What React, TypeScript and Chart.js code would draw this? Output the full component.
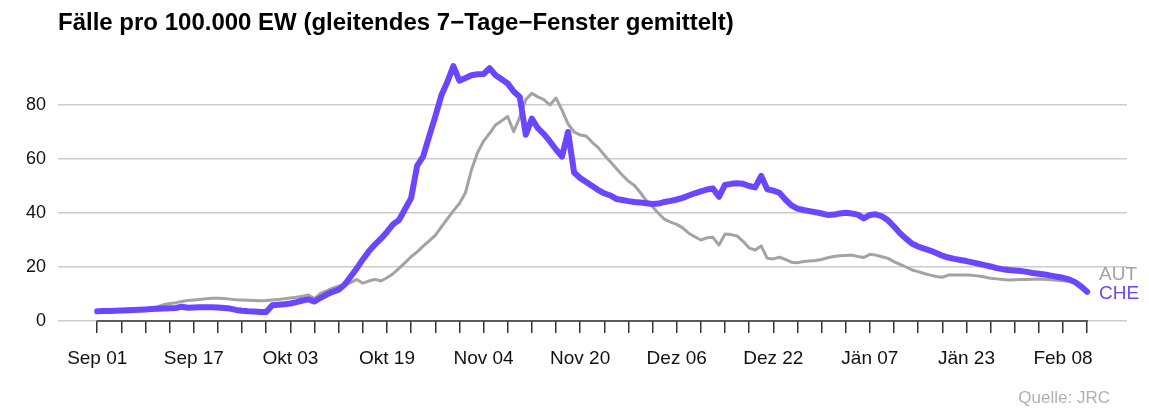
import React, { useEffect, useRef } from "react";
import { Chart, registerables } from "chart.js";

Chart.register(...registerables);

const TITLE = "Fälle pro 100.000 EW (gleitendes 7−Tage−Fenster gemittelt)";
const SOURCE = "Quelle: JRC";
const SERIES_NAMES = ["AUT", "CHE"];

// One label every 16 days, starting Sep 01
const tickLabels = ["Sep 01", "Sep 17", "Okt 03", "Okt 19", "Nov 04", "Nov 20", "Dez 06", "Dez 22", "Jän 07", "Jän 23", "Feb 08"];
const yTicks = [0, 20, 40, 60, 80];

// Daily values from Sep 01 to Feb 12
const che = [
  3.6, 3.7, 3.7, 3.8, 3.9, 4.0, 4.1, 4.2, 4.3, 4.4,
  4.5, 4.6, 4.7, 4.8, 5.3, 4.9, 5.0, 5.1, 5.1, 5.1,
  5.0, 4.8, 4.6, 4.1, 3.8, 3.6, 3.5, 3.3, 3.3, 5.8,
  6.0, 6.2, 6.5, 7.0, 7.6, 8.0, 7.2, 8.6, 9.8, 10.8,
  11.6, 13.5, 16.5, 19.5, 22.8, 25.8, 28.3, 30.5, 33.0, 35.8,
  37.4, 41.5, 45.5, 57.5, 61.0, 68.5, 75.7, 83.5, 88.5, 94.4,
  89.0, 90.0, 91.0, 91.4, 91.5, 93.6, 91.0, 89.5, 88.0, 85.0,
  83.0, 69.0, 75.0, 71.4, 69.2, 66.5, 63.5, 60.9, 70.0, 55.0,
  53.0, 51.5, 50.0, 48.5, 47.3, 46.5, 45.2, 44.8, 44.4, 44.1,
  43.9, 43.6, 43.3, 43.5, 44.1, 44.5, 45.0, 45.6, 46.5, 47.3,
  48.0, 48.7, 49.1, 46.0, 50.4, 50.8, 51.0, 50.8, 50.0, 49.5,
  53.7, 48.8, 48.3, 47.5, 45.0, 42.8, 41.6, 41.1, 40.7, 40.3,
  39.8, 39.3, 39.4, 39.8, 40.1, 39.8, 39.4, 38.0, 39.3, 39.5,
  38.8, 37.3, 35.0, 32.5, 30.5, 28.6, 27.6, 26.8, 26.1, 25.2,
  24.2, 23.5, 23.0, 22.6, 22.2, 21.7, 21.2, 20.7, 20.2, 19.6,
  19.2, 18.9, 18.7, 18.5, 18.2, 17.8, 17.5, 17.2, 16.8, 16.4,
  16.0, 15.4, 14.4, 12.8, 10.8,
];

const aut = [
  3.5, 3.6, 3.7, 3.8, 3.9, 4.0, 4.1, 4.3, 4.5, 4.8,
  5.3, 6.0, 6.5, 6.8, 7.2, 7.6, 7.8, 8.0, 8.2, 8.4,
  8.4, 8.3, 8.1, 7.9, 7.8, 7.7, 7.6, 7.5, 7.6, 7.8,
  8.0, 8.2, 8.5, 8.8, 9.2, 9.6, 8.3, 10.2, 11.2, 12.2,
  12.9, 13.3, 14.2, 15.4, 14.0, 14.8, 15.4, 14.8, 16.0, 17.5,
  19.5, 21.6, 23.8, 25.6, 27.7, 29.7, 31.7, 34.8, 37.8, 40.8,
  43.5, 47.5, 56.0, 62.3, 66.6, 69.5, 72.6, 74.2, 75.7, 70.1,
  75.5, 82.0, 84.3, 83.0, 82.0, 80.0, 82.6, 78.1, 73.0, 70.0,
  68.9, 68.5, 66.2, 64.2, 61.5, 59.0, 56.5, 54.0, 51.8, 50.2,
  47.5, 44.5, 42.3, 39.8, 37.6, 36.6, 35.8, 34.5, 32.5, 31.2,
  30.0, 30.8, 31.0, 28.1, 32.2, 32.0, 31.5, 29.5, 27.0, 26.3,
  27.8, 23.2, 23.0, 23.6, 22.8, 21.8, 21.6, 22.0, 22.2, 22.4,
  22.8, 23.4, 23.9, 24.2, 24.3, 24.4, 23.9, 23.5, 24.7, 24.4,
  23.8, 23.2, 22.0, 21.0, 20.0, 18.9, 18.3, 17.6, 17.0, 16.5,
  16.2, 17.0, 17.0, 17.0, 17.0, 16.9, 16.7, 16.3, 15.8, 15.6,
  15.4, 15.2, 15.3, 15.4, 15.4, 15.5, 15.6, 15.5, 15.3, 15.1,
  14.9, 14.6,
];

const CHE_COLOR = "#6a46ff";
const AUT_COLOR = "#a3a3a3";
const FONT = '"Liberation Sans", Arial, Helvetica, sans-serif';

export default function App() {
  const ref = useRef<HTMLCanvasElement | null>(null);

  useEffect(() => {
    const canvas = ref.current;
    if (!canvas) return;
    const lastDay = che.length - 1;

    const decor = {
      id: "decor",
      afterDraw(chart: any) {
        const { ctx, scales } = chart;
        const xs = scales.x;
        const ys = scales.y;
        ctx.save();
        // title
        ctx.fillStyle = "#000";
        ctx.font = `bold 24px ${FONT}`;
        ctx.textAlign = "left";
        ctx.textBaseline = "alphabetic";
        ctx.fillText(TITLE, 58, 30);
        // black axis segment
        ctx.strokeStyle = "#333";
        ctx.lineWidth = 1.5;
        ctx.beginPath();
        const y0 = ys.getPixelForValue(0);
        ctx.moveTo(xs.getPixelForValue(0) - 0.75, y0);
        ctx.lineTo(xs.getPixelForValue(lastDay) + 0.75, y0);
        ctx.stroke();
        // end labels
        ctx.font = `19px ${FONT}`;
        ctx.textBaseline = "middle";
        ctx.fillStyle = AUT_COLOR;
        ctx.fillText(SERIES_NAMES[0], 1099, 275);
        ctx.fillStyle = CHE_COLOR;
        ctx.fillText(SERIES_NAMES[1], 1099, 294);
        // source
        ctx.font = `17px ${FONT}`;
        ctx.fillStyle = "#b0b0b0";
        ctx.textAlign = "right";
        ctx.fillText(SOURCE, 1110, 398);
        ctx.restore();
      },
    };

    const chart = new Chart(canvas, {
      type: "line",
      data: {
        datasets: [
          {
            label: SERIES_NAMES[1],
            data: che.map((v, i) => ({ x: i, y: v })),
            borderColor: CHE_COLOR,
            borderWidth: 6,
            pointRadius: 0,
            tension: 0,
            borderJoinStyle: "round",
            borderCapStyle: "round",
            order: 0,
          },
          {
            label: SERIES_NAMES[0],
            data: aut.map((v, i) => ({ x: i, y: v })),
            borderColor: AUT_COLOR,
            borderWidth: 3,
            pointRadius: 0,
            tension: 0,
            borderJoinStyle: "round",
            borderCapStyle: "round",
            order: 1,
          },
        ],
      },
      options: {
        animation: false,
        responsive: false,
        maintainAspectRatio: false,
        layout: { padding: { left: 0, right: 22, top: 51, bottom: 37 } },
        plugins: { legend: { display: false }, tooltip: { enabled: false }, title: { display: false } },
        scales: {
          x: {
            type: "linear",
            min: -6.5,
            max: 170.6,
            afterBuildTicks(scale: any) {
              const t = [];
              for (let d = 0; d <= lastDay; d += 4) t.push({ value: d });
              scale.ticks = t;
            },
            afterFit(scale: any) {
              scale.height = 50;
            },
            border: { display: false },
            grid: {
              display: true,
              drawOnChartArea: false,
              drawTicks: true,
              tickLength: 12,
              color: "#333",
              lineWidth: 1.5,
            },
            ticks: {
              autoSkip: false,
              maxRotation: 0,
              padding: 14,
              color: "#111",
              font: { family: FONT, size: 19 },
              callback: (v: any) => {
                const n = Number(v);
                return n % 16 === 0 ? tickLabels[n / 16] ?? "" : "";
              },
            },
          },
          y: {
            min: 0,
            max: 100,
            afterBuildTicks(scale: any) {
              scale.ticks = yTicks.map((v) => ({ value: v }));
            },
            afterFit(scale: any) {
              scale.width = 58;
            },
            border: { display: false },
            grid: { color: "#cccccc", lineWidth: 1.5, drawTicks: false },
            ticks: {
              padding: 12,
              color: "#111",
              font: { family: FONT, size: 18 },
            },
          },
        },
      },
      plugins: [decor],
    } as any);

    return () => chart.destroy();
  }, []);

  return (
    <div style={{ position: "fixed", left: 0, top: 0, width: 1149, height: 408, background: "#fff" }}>
      <canvas ref={ref} width={1149} height={408} style={{ width: 1149, height: 408, display: "block" }} />
    </div>
  );
}
